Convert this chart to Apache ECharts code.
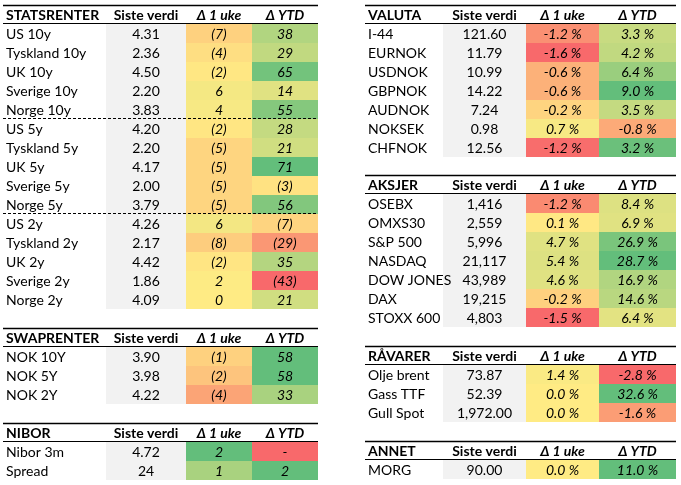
<!DOCTYPE html>
<html><head><meta charset="utf-8">
<script src="https://cdn.jsdelivr.net/npm/echarts@6/dist/echarts.min.js"></script>
<style>html,body{margin:0;padding:0;background:#fff}#c{width:681px;height:485px}</style>
</head><body><div id="c"></div>
<script>
// ---------- DATA ----------
const colHeaders = ['Siste verdi', 'Δ 1 uke', 'Δ YTD'];

const statsRows  = ['US 10y','Tyskland 10y','UK 10y','Sverige 10y','Norge 10y','US 5y','Tyskland 5y','UK 5y','Sverige 5y','Norge 5y','US 2y','Tyskland 2y','UK 2y','Sverige 2y','Norge 2y'];
const statsSiste = [4.31,2.36,4.50,2.20,3.83,4.20,2.20,4.17,2.00,3.79,4.26,2.17,4.42,1.86,4.09];
const statsUke   = [-7,-4,-2,6,4,-2,-5,-5,-5,-5,6,-8,-2,2,0];
const statsYtd   = [38,29,65,14,55,28,21,71,-3,56,-7,-29,35,-43,21];
const statsUkeShade = [-0.2,-0.1,-0.03,0.07,0.05,-0.04,-0.17,-0.17,-0.17,-0.17,0.08,-0.23,-0.05,0.01,0];
const statsYtdShade = [0.5,0.4,0.9,0.2,0.78,0.38,0.3,1,-0.07,0.8,-0.18,-0.65,0.48,-1,0.3];

const swapRows  = ['NOK 10Y','NOK 5Y','NOK 2Y'];
const swapSiste = [3.90,3.98,4.22];
const swapUke   = [-1,-2,-4];
const swapYtd   = [58,58,33];
const swapUkeShade = [-0.2,-0.3,-0.55];
const swapYtdShade = [1,1,0.55];

const niborRows  = ['Nibor 3m','Spread'];
const niborSiste = [4.72,24];
const niborUke   = [2,1];
const niborYtd   = [0,2];
const niborUkeShade = [1,0.55];
const niborYtdShade = [-1,1];

const valutaRows  = ['I-44','EURNOK','USDNOK','GBPNOK','AUDNOK','NOKSEK','CHFNOK'];
const valutaSiste = [121.60,11.79,10.99,14.22,7.24,0.98,12.56];
const valutaUke   = [-1.2,-1.6,-0.6,-0.6,-0.2,0.7,-1.2];
const valutaYtd   = [3.3,4.2,6.4,9.0,3.5,-0.8,3.2];
const valutaUkeShade = [-0.7,-1,-0.45,-0.45,-0.18,0.05,-0.97];
const valutaYtdShade = [0.35,0.4,0.65,1,0.38,-0.5,0.95];

const aksjerRows  = ['OSEBX','OMXS30','S&P 500','NASDAQ','DOW JONES','DAX','STOXX 600'];
const aksjerSiste = [1416,2559,5996,21117,43989,19215,4803];
const aksjerUke   = [-1.2,0.1,4.7,5.4,4.6,-0.2,-1.5];
const aksjerYtd   = [8.4,6.9,26.9,28.7,16.9,14.6,6.4];
const aksjerUkeShade = [-0.75,-0.02,0.2,0.22,0.2,-0.2,-1];
const aksjerYtdShade = [0.22,0.2,0.85,1,0.5,0.45,0.18];

const ravarerRows  = ['Olje brent','Gass TTF','Gull Spot'];
const ravarerSiste = [73.87,52.39,1972.00];
const ravarerUke   = [1.4,0.0,0.0];
const ravarerYtd   = [-2.8,32.6,-1.6];
const ravarerUkeShade = [0.03,0,0];
const ravarerYtdShade = [-1,1,-0.6];

const annetRows  = ['MORG'];
const annetSiste = [90.00];
const annetUke   = [0.0];
const annetYtd   = [11.0];
const annetUkeShade = [0];
const annetYtdShade = [1];

// ---------- FORMATTERS ----------
const bp = v => v < 0 ? '(' + Math.abs(v) + ')' : String(v);
const bpDash = v => v === 0 ? '-' : bp(v);
const pct = v => v.toFixed(1) + ' %';
const num = d => v => v.toLocaleString('en-US', {minimumFractionDigits: d, maximumFractionDigits: d});
const auto = v => Number.isInteger(v) ? String(v) : v.toFixed(2);

// ---------- LAYOUT ----------
const FONT = 'Lato';
const FS = 14;
const ROW_H = 19;
const edgesL = [0,103,183,249,315];
const edgesR = [0,78,161,234,311];

const tables = [
  {name:'STATSRENTER', rows:statsRows, siste:statsSiste, uke:statsUke, ytd:statsYtd, us:statsUkeShade, ys:statsYtdShade, fs:num(2), fd:bp, breaks:[5,10], left:3, top:5, edges:edgesL},
  {name:'SWAPRENTER', rows:swapRows, siste:swapSiste, uke:swapUke, ytd:swapYtd, us:swapUkeShade, ys:swapYtdShade, fs:num(2), fd:bp, breaks:[], left:3, top:328, edges:edgesL},
  {name:'NIBOR', rows:niborRows, siste:niborSiste, uke:niborUke, ytd:niborYtd, us:niborUkeShade, ys:niborYtdShade, fs:auto, fd:bpDash, breaks:[], left:3, top:423, edges:edgesL},
  {name:'VALUTA', rows:valutaRows, siste:valutaSiste, uke:valutaUke, ytd:valutaYtd, us:valutaUkeShade, ys:valutaYtdShade, fs:num(2), fd:pct, breaks:[], left:365, top:5, edges:edgesR},
  {name:'AKSJER', rows:aksjerRows, siste:aksjerSiste, uke:aksjerUke, ytd:aksjerYtd, us:aksjerUkeShade, ys:aksjerYtdShade, fs:num(0), fd:pct, breaks:[], left:365, top:175, edges:edgesR},
  {name:'RÅVARER', rows:ravarerRows, siste:ravarerSiste, uke:ravarerUke, ytd:ravarerYtd, us:ravarerUkeShade, ys:ravarerYtdShade, fs:num(2), fd:pct, breaks:[], left:365, top:346, edges:edgesR},
  {name:'ANNET', rows:annetRows, siste:annetSiste, uke:annetUke, ytd:annetYtd, us:annetUkeShade, ys:annetYtdShade, fs:num(2), fd:pct, breaks:[], left:365, top:441, edges:edgesR}
];

const grids = [], xAxes = [], yAxes = [], series = [];
tables.forEach((t, i) => {
  const n = t.rows.length + 1;
  const W = t.edges[t.edges.length - 1];
  grids.push({left: t.left, top: t.top, width: W, height: n * ROW_H});
  xAxes.push({type:'value', gridIndex:i, min:0, max:W, show:false});
  yAxes.push({type:'category', gridIndex:i, inverse:true, show:false, data:[t.name].concat(t.rows)});
  const data = [], texts = [];
  for (let r = 0; r < n; r++) {
    for (let c = 0; c < 4; c++) {
      let txt, shade = 0;
      if (r === 0) txt = c === 0 ? t.name : colHeaders[c - 1];
      else {
        const k = r - 1;
        if (c === 0) txt = t.rows[k];
        else if (c === 1) txt = t.fs(t.siste[k]);
        else if (c === 2) { txt = t.fd(t.uke[k]); shade = t.us[k]; }
        else { txt = t.fd(t.ytd[k]); shade = t.ys[k]; }
      }
      data.push([c, r, shade]);
      texts.push(txt);
    }
  }
  series.push({
    type:'custom', xAxisIndex:i, yAxisIndex:i, data:data, encode:{x:0, y:1},
    silent:true, clip:false,
    renderItem: function (params, api) {
      const c = api.value(0), r = api.value(1);
      const e = t.edges;
      const p0 = api.coord([e[c], r]);
      const p1 = api.coord([e[c + 1], r]);
      const h = api.size([0, 1])[1];
      const x0 = Math.round(p0[0]), x1 = Math.round(p1[0]);
      const y0 = Math.round(p0[1] - h / 2), y1 = Math.round(p0[1] + h / 2);
      const children = [];
      if (r > 0 && c >= 1) {
        children.push({type:'rect', shape:{x:x0, y:y0, width:x1 - x0, height:y1 - y0},
          style:{fill: c === 1 ? '#F2F2F2' : api.visual('color')}, z2:1});
      }
      const txt = texts[params.dataIndex];
      children.push({type:'text', z2:5, style:{
        text: txt,
        x: c === 0 ? x0 + 3 : (x0 + x1) / 2,
        y: (y0 + y1) / 2 + 0.5,
        align: c === 0 ? 'left' : 'center',
        verticalAlign: 'middle',
        fontFamily: FONT, fontSize: FS,
        fontWeight: r === 0 ? 'bold' : 'normal',
        fontStyle: c >= 2 ? 'italic' : 'normal',
        fill: '#000'
      }});
      if (c === 0) {
        const xa = Math.round(api.coord([e[0], r])[0]);
        const xb = Math.round(api.coord([e[e.length - 1], r])[0]);
        if (r === 0) {
          children.push({type:'line', z2:10, shape:{x1:xa, y1:y0 + 0.5, x2:xb, y2:y0 + 0.5}, style:{stroke:'#000', lineWidth:1.3}});
          children.push({type:'line', z2:10, shape:{x1:xa, y1:y1 - 0.5, x2:xb, y2:y1 - 0.5}, style:{stroke:'#000', lineWidth:1}});
        }
        if (t.breaks.indexOf(r) >= 0) {
          children.push({type:'line', z2:10, shape:{x1:xa, y1:y1 - 0.5, x2:xb, y2:y1 - 0.5}, style:{stroke:'#000', lineWidth:1, lineDash:[3,2]}});
        }
      }
      return {type:'group', children:children};
    }
  });
});

const chart = echarts.init(document.getElementById('c'), null, {renderer:'canvas'});
chart.setOption({
  animation:false,
  backgroundColor:'#fff',
  grid:grids, xAxis:xAxes, yAxis:yAxes,
  visualMap:[{type:'continuous', show:false, dimension:2, min:-1, max:1,
    seriesIndex: tables.map((_, i) => i),
    inRange:{color:['#F8696B','#FFEB84','#63BE7B']}}],
  series:series
});
</script>
</body></html>
